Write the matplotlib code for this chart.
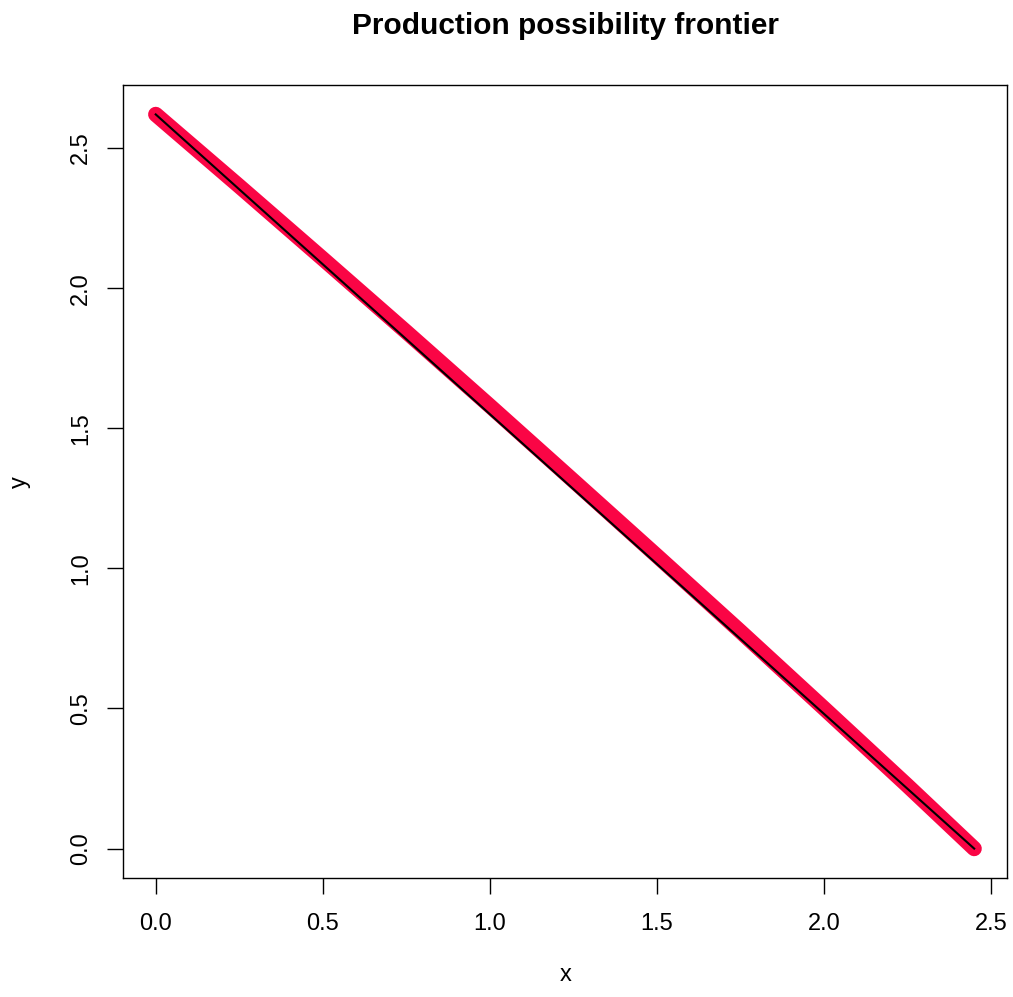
import numpy as np
import matplotlib.pyplot as plt

plt.rcParams['font.family'] = ['Liberation Sans', 'DejaVu Sans']

# frontier points (red curve)
ppf_x = [0.0, 0.25, 0.5, 0.75, 1.0, 1.25, 1.5, 1.75, 2.0, 2.25, 2.45]
ppf_y = [2.62, 2.364, 2.105, 1.844, 1.580, 1.313, 1.045, 0.775, 0.501, 0.225, 0.0]

# straight line between the two end points (black)
line_x = [0.0, 2.45]
line_y = [2.62, 0.0]

xticks = [0.0, 0.5, 1.0, 1.5, 2.0, 2.5]
yticks = [0.0, 0.5, 1.0, 1.5, 2.0, 2.5]

fig = plt.figure(figsize=(10.13, 9.97), dpi=100)
ax = fig.add_axes([0.1214, 0.1194, 0.8726, 0.7953])

ax.plot(ppf_x, ppf_y, color='#FA0545', lw=11, solid_capstyle='round',
        solid_joinstyle='round')
ax.plot(line_x, line_y, color='black', lw=1.5)

# R style 4% padding
ax.set_xlim(-0.098, 2.548)
ax.set_ylim(-0.1048, 2.7248)
ax.set_xticks(xticks)
ax.set_yticks(yticks)
ax.set_xticklabels([f'{t:.1f}' for t in xticks])
ax.set_yticklabels([f'{t:.1f}' for t in yticks], rotation=90, va='center')
ax.tick_params(length=11.5, width=1, labelsize=17)
ax.tick_params(axis='x', pad=14)
ax.tick_params(axis='y', pad=10.8)
for s in ax.spines.values():
    s.set_linewidth(1)

# axis titles placed in figure pixels, like R's margin text
fig.text(566 / 1013, 1 - 975 / 997, 'x', fontsize=17, ha='center', va='center')
fig.text(20 / 1013, 1 - 482 / 997, 'y', fontsize=17, rotation=90,
         ha='center', va='center')
fig.suptitle('Production possibility frontier', fontsize=21.5, fontweight='bold',
             x=0.5587, y=0.988)

fig.savefig('out.png', dpi=100)
